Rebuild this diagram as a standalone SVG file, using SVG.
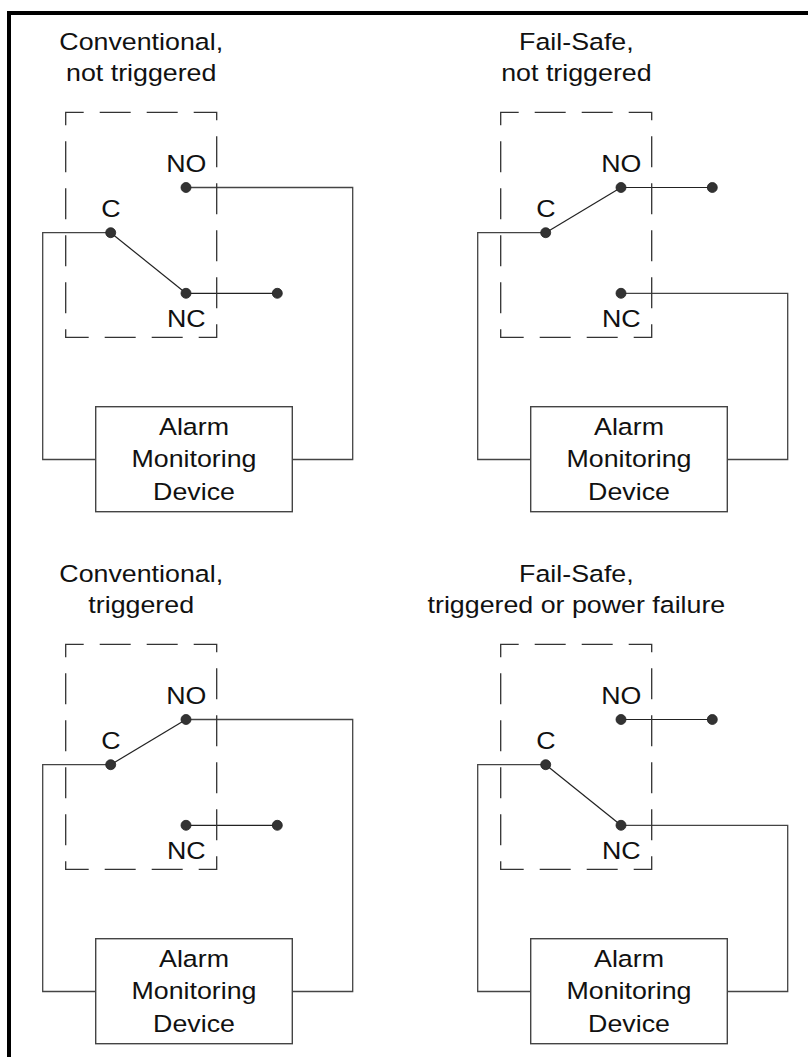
<svg xmlns="http://www.w3.org/2000/svg" width="808" height="1057" viewBox="0 0 808 1057">
<style>
  .bg { fill: #ffffff; }
  .frame { fill: none; stroke: #000; stroke-width: 4; stroke-linejoin: miter; }
  .t { font-family: "Liberation Sans", Arial, sans-serif; font-size: 23.5px; fill: #111; text-anchor: middle; }
  .relay { fill: none; stroke: #333; stroke-width: 1.3; stroke-dasharray: 31 16; stroke-dashoffset: 13; }
  .box { fill: #fff; stroke: #444; stroke-width: 1.4; }
  .wire { fill: none; stroke: #444; stroke-width: 1.3; }
  .sw { fill: none; stroke: #222; stroke-width: 1.2; }
  .dot { fill: #333; stroke: #222; stroke-width: 0.8; }
</style>
<defs>
  <g id="relayBase">
    <rect class="relay" x="65.7" y="112.3" width="151" height="225"/>
    <text class="t" transform="translate(186.3 171.7) scale(1.14 1)">NO</text>
    <text class="t" transform="translate(111 216.7) scale(1.14 1)">C</text>
    <text class="t" transform="translate(186.3 326.7) scale(1.14 1)">NC</text>
  </g>
  <g id="deviceBase">
    <rect class="box" x="95.7" y="406.7" width="196.6" height="105"/>
    <text class="t" transform="translate(194 434.7) scale(1.14 1)">Alarm</text>
    <text class="t" transform="translate(194 467) scale(1.14 1)">Monitoring</text>
    <text class="t" transform="translate(194 499.7) scale(1.14 1)">Device</text>
  </g>
</defs>
<rect class="bg" x="0" y="0" width="808" height="1057"/>
<path class="frame" d="M9 1057 V13 H808"/>

<!-- Connectors -->
<g id="connectors">
  <!-- Top-left: conventional, not triggered -->
  <path class="wire" d="M110.7 232.7 H42.7 V459.5 H95.7"/>
  <path class="wire" d="M186 187.5 H352.7 V459.5 H292.3"/>
  <path class="sw" d="M186 293.3 H277.3"/>
  <path class="sw" d="M110.7 232.7 L186 293.3"/>
  <!-- Top-right: fail-safe, not triggered -->
  <path class="wire" d="M545.7 232.7 H477.7 V459.5 H530.7"/>
  <path class="wire" d="M621 293.3 H787.7 V459.5 H727.3"/>
  <path class="sw" d="M621 187.5 H712.3"/>
  <path class="sw" d="M545.7 232.7 L621 187.5"/>
  <!-- Bottom-left: conventional, triggered -->
  <path class="wire" d="M110.7 764.7 H42.7 V991.5 H95.7"/>
  <path class="wire" d="M186 719.5 H352.7 V991.5 H292.3"/>
  <path class="sw" d="M186 825.3 H277.3"/>
  <path class="sw" d="M110.7 764.7 L186 719.5"/>
  <!-- Bottom-right: fail-safe, triggered or power failure -->
  <path class="wire" d="M545.7 764.7 H477.7 V991.5 H530.7"/>
  <path class="wire" d="M621 825.3 H787.7 V991.5 H727.3"/>
  <path class="sw" d="M621 719.5 H712.3"/>
  <path class="sw" d="M545.7 764.7 L621 825.3"/>
</g>

<!-- Panel 1 -->
<g id="title-conv-not">
  <text class="t" transform="translate(141.2 50) scale(1.14 1)">Conventional,</text>
  <text class="t" transform="translate(141.2 80.7) scale(1.14 1)">not triggered</text>
</g>
<g id="relay-conv-not">
  <use href="#relayBase"/>
  <circle class="dot" cx="186" cy="187.5" r="5"/>
  <circle class="dot" cx="110.7" cy="232.7" r="5"/>
  <circle class="dot" cx="186" cy="293.3" r="5"/>
  <circle class="dot" cx="277.3" cy="293.3" r="5"/>
</g>
<g id="device-conv-not">
  <use href="#deviceBase"/>
</g>

<!-- Panel 2 -->
<g id="title-fs-not">
  <text class="t" transform="translate(576.4 50) scale(1.14 1)">Fail-Safe,</text>
  <text class="t" transform="translate(576.4 80.7) scale(1.14 1)">not triggered</text>
</g>
<g id="relay-fs-not">
  <use href="#relayBase" transform="translate(435,0)"/>
  <circle class="dot" cx="621" cy="187.5" r="5"/>
  <circle class="dot" cx="545.7" cy="232.7" r="5"/>
  <circle class="dot" cx="621" cy="293.3" r="5"/>
  <circle class="dot" cx="712.3" cy="187.5" r="5"/>
</g>
<g id="device-fs-not">
  <use href="#deviceBase" transform="translate(435,0)"/>
</g>

<!-- Panel 3 -->
<g id="title-conv-trig">
  <text class="t" transform="translate(141.2 582) scale(1.14 1)">Conventional,</text>
  <text class="t" transform="translate(141.2 612.7) scale(1.14 1)">triggered</text>
</g>
<g id="relay-conv-trig">
  <use href="#relayBase" transform="translate(0,532)"/>
  <circle class="dot" cx="186" cy="719.5" r="5"/>
  <circle class="dot" cx="110.7" cy="764.7" r="5"/>
  <circle class="dot" cx="186" cy="825.3" r="5"/>
  <circle class="dot" cx="277.3" cy="825.3" r="5"/>
</g>
<g id="device-conv-trig">
  <use href="#deviceBase" transform="translate(0,532)"/>
</g>

<!-- Panel 4 -->
<g id="title-fs-trig">
  <text class="t" transform="translate(576.4 582) scale(1.14 1)">Fail-Safe,</text>
  <text class="t" transform="translate(576.4 612.7) scale(1.14 1)">triggered or power failure</text>
</g>
<g id="relay-fs-trig">
  <use href="#relayBase" transform="translate(435,532)"/>
  <circle class="dot" cx="621" cy="719.5" r="5"/>
  <circle class="dot" cx="545.7" cy="764.7" r="5"/>
  <circle class="dot" cx="621" cy="825.3" r="5"/>
  <circle class="dot" cx="712.3" cy="719.5" r="5"/>
</g>
<g id="device-fs-trig">
  <use href="#deviceBase" transform="translate(435,532)"/>
</g>
</svg>
